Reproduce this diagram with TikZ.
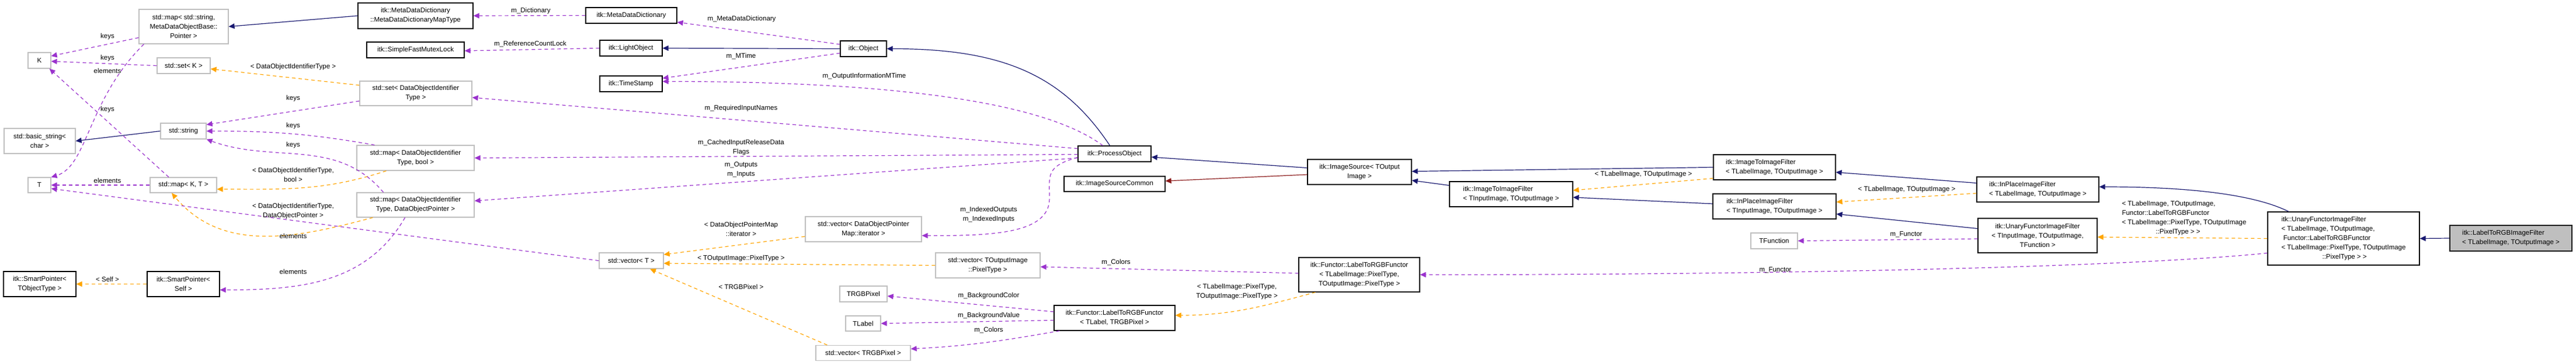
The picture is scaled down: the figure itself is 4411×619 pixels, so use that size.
\documentclass[tikz,border=0pt]{standalone}
\usepackage{fontspec}
\setmainfont{Liberation Sans}
\usetikzlibrary{arrows.meta}
\definecolor{cblue}{HTML}{191970}
\definecolor{cpurp}{HTML}{9A32CD}
\definecolor{corg}{HTML}{FFA500}
\definecolor{cred}{HTML}{8B1A1A}
\definecolor{cgray}{HTML}{BFBFBF}
\begin{document}
\begin{tikzpicture}[x=1pt,y=-1pt,
  font=\fontsize{11.5}{16}\selectfont,
  box/.style={draw=black,line width=1.2pt,rectangle,inner sep=0pt,align=center},
  ud/.style={draw=cgray,line width=1.2pt,rectangle,inner sep=0pt,align=center},
  lab/.style={inner sep=0pt,align=center},
  tip/.style={-{Triangle[length=10pt,width=9pt]}},
  inh/.style={tip,draw=cblue,fill=none,line width=1.2pt,cblue},
  inr/.style={tip,draw=cred,line width=1.2pt,cred},
  tmpl/.style={tip,draw=corg,line width=1.2pt,dash pattern=on 6pt off 5pt,corg},
  use/.style={tip,draw=cpurp,line width=1.2pt,dash pattern=on 6pt off 5pt,cpurp}]
\useasboundingbox (0,0) rectangle (4411,619);
% nodes
\node[ud,minimum width=153,minimum height=59] (mapstr) at (314.5,45.5) {std::map< std::string,\\MetaDataObjectBase::\\Pointer >};
\node[ud,minimum width=39,minimum height=27] (K) at (67.5,103.5) {K};
\node[ud,minimum width=91,minimum height=27] (setK) at (314.5,112.5) {std::set< K >};
\node[ud,minimum width=122,minimum height=43] (bstr) at (68,241.5) {std::basic\_string<\\char >};
\node[ud,minimum width=78,minimum height=27] (sstr) at (314,224.5) {std::string};
\node[ud,minimum width=39,minimum height=26] (T) at (67.5,317) {T};
\node[ud,minimum width=114,minimum height=26] (mapKT) at (314,317) {std::map< K, T >};
\node[box,minimum width=124,minimum height=43] (spt) at (68,486.5) {itk::SmartPointer<\\TObjectType >};
\node[box,minimum width=124,minimum height=43] (sps) at (314,486.5) {itk::SmartPointer<\\Self >};
\node[box,minimum width=197,minimum height=44] (mddmap) at (711.5,27) {itk::MetaDataDictionary\\::MetaDataDictionaryMapType};
\node[box,minimum width=167,minimum height=27] (sfml) at (711.5,85.5) {itk::SimpleFastMutexLock};
\node[ud,minimum width=192,minimum height=42] (setd) at (712,160) {std::set< DataObjectIdentifier\\Type >};
\node[ud,minimum width=201,minimum height=43] (mapb) at (711.5,270.5) {std::map< DataObjectIdentifier\\Type, bool >};
\node[ud,minimum width=201,minimum height=42] (mapp) at (711.5,351) {std::map< DataObjectIdentifier\\Type, DataObjectPointer >};
\node[box,minimum width=156,minimum height=27] (mdd) at (1081,26.5) {itk::MetaDataDictionary};
\node[box,minimum width=107,minimum height=27] (lo) at (1080.5,82.5) {itk::LightObject};
\node[box,minimum width=107,minimum height=27] (ts) at (1080.5,143.5) {itk::TimeStamp};
\node[ud,minimum width=110,minimum height=27] (vect) at (1081,446.5) {std::vector< T >};
\node[ud,minimum width=199,minimum height=43] (vecdopm) at (1478.5,392.5) {std::vector< DataObjectPointer\\Map::iterator >};
\node[box,minimum width=79,minimum height=27] (obj) at (1478.5,83.5) {itk::Object};
\node[box,minimum width=125,minimum height=27] (po) at (1908.5,263.5) {itk::ProcessObject};
\node[box,minimum width=173,minimum height=26] (isc) at (1908.5,315) {itk::ImageSourceCommon};
\node[ud,minimum width=179,minimum height=43] (vectop) at (1691.5,454.5) {std::vector< TOutputImage\\::PixelType >};
\node[ud,minimum width=81,minimum height=27] (trgb) at (1478.5,503.5) {TRGBPixel};
\node[ud,minimum width=60,minimum height=26] (tlabel) at (1478,554) {TLabel};
\node[ud,minimum width=162,minimum height=26] (vectrgb) at (1478,604.5) {std::vector< TRGBPixel >};
\node[box,minimum width=207,minimum height=43] (funl) at (1908.5,544.5) {itk::Functor::LabelToRGBFunctor\\< TLabel, TRGBPixel >};
\node[box,minimum width=178,minimum height=43] (is) at (2328,294.5) {itk::ImageSource< TOutput\\Image >};
\node[box,minimum width=211,minimum height=43,align=left] (i2it) at (2587.5,332.5) {itk::ImageToImageFilter\\< TInputImage, TOutputImage >};
\node[box,minimum width=207,minimum height=59] (funp) at (2327.5,470.5) {itk::Functor::LabelToRGBFunctor\\< TLabelImage::PixelType,\\TOutputImage::PixelType >};
\node[box,minimum width=209,minimum height=43,align=left] (i2il) at (3038.5,286.5) {itk::ImageToImageFilter\\< TLabelImage, TOutputImage >};
\node[box,minimum width=211,minimum height=43,align=left] (ipt) at (3038.5,353.5) {itk::InPlaceImageFilter\\< TInputImage, TOutputImage >};
\node[ud,minimum width=80,minimum height=27] (tfun) at (3038,412.5) {TFunction};
\node[box,minimum width=209,minimum height=43,align=left] (ipl) at (3489.5,324.5) {itk::InPlaceImageFilter\\< TLabelImage, TOutputImage >};
\node[box,minimum width=204,minimum height=59] (ut) at (3489,403.5) {itk::UnaryFunctorImageFilter\\< TInputImage, TOutputImage,\\TFunction >};
\node[box,minimum width=260,minimum height=91,align=left] (ul) at (4013,408.5) {itk::UnaryFunctorImageFilter\\< TLabelImage, TOutputImage,\\\ Functor::LabelToRGBFunctor\\< TLabelImage::PixelType, TOutputImage\\\hspace*{70pt}::PixelType > >};
\node[box,fill=cgray,minimum width=209,minimum height=44,align=left] (lrgb) at (4299.5,408) {itk::LabelToRGBImageFilter\\< TLabelImage, TOutputImage >};
% inheritance
\draw[inh] (mddmap.west) -- (mapstr.east);
\draw[inh] (sstr.west) -- (bstr.east);
\draw[inh] (obj.west) -- (lo.east);
\draw[inh] ([xshift=-8]po.north) .. controls +(-80,-120) and +(200,0) .. (obj.east);
\draw[inh] ([yshift=7]is.west) -- ([yshift=-5.5]po.east);
\draw[inr] ([yshift=-4.5]is.west) -- ([yshift=5]isc.east);
\draw[inh] ([yshift=15]i2it.west) -- ([yshift=-14.5]is.east);
\draw[inh] (i2il.west) -- ([yshift=1]is.east);
\draw[inh] ([yshift=4.5]ipt.west) -- ([yshift=-5.5]i2it.east);
\draw[inh] ([yshift=11]ipl.west) -- ([yshift=-8.5]i2il.east);
\draw[inh] ([yshift=12]ut.west) -- ([yshift=-13]ipt.east);
\draw[inh] ([xshift=-94]ul.north) .. controls +(-60,-30) and +(150,0) .. ([yshift=4.5]ipl.east);
\draw[inh] (lrgb.west) -- (ul.east);
% templates
\draw[tmpl] ([yshift=-19]i2il.west) -- ([yshift=6.5]i2it.east);
\draw[tmpl] ([yshift=-6.5]ipl.west) -- ([yshift=7.5]ipt.east);
\draw[tmpl] (ul.west) -- ([yshift=-2.5]ut.east);
\draw[tmpl] ([xshift=-75]funp.south) to[out=195,in=0] ([yshift=4.5]funl.east);
\draw[tmpl] (vectop.west) -- ([yshift=-4.5]vect.east);
\draw[tmpl] ([yshift=-12.5]vecdopm.west) -- ([yshift=10.5]vect.east);
\draw[tmpl] ([xshift=20]vectrgb.north west) -- ([xshift=32]vect.south);
\draw[tmpl] ([yshift=14]setd.west) -- ([yshift=-5.5]setK.east);
\draw[tmpl] ([xshift=-50]mapb.south) to[out=198,in=0] ([yshift=-7]mapKT.east);
\draw[tmpl] ([xshift=-73]mapp.south) to[out=195,in=-50] ([xshift=-20]mapKT.south);
\draw[tmpl] (sps.west) -- (spt.east);
% usage
\draw[use] ([yshift=-25]ul.west) .. controls +(-250,25) and +(600,0) .. (funp.east);
\draw[use] ([yshift=-5.5]ut.west) -- (tfun.east);
\draw[use] ([yshift=2.5]funp.west) -- ([yshift=-2.5]vectop.east);
\draw[use] ([yshift=10.5]funl.west) -- ([yshift=-3.5]trgb.east);
\draw[use] ([yshift=-4]funl.west) -- (tlabel.east);
\draw[use] ([xshift=10]funl.south west) to[out=190,in=3] ([yshift=7]vectrgb.east);
\draw[use] ([yshift=-6]po.west) .. controls (1790,285) and (1797,300) .. (1797,340) .. controls (1797,400) and (1700,404) .. ([yshift=-11]vecdopm.east);
\draw[use] ([yshift=-7]po.west) -- ([yshift=7]mapp.east);
\draw[use] ([yshift=-1]po.west) -- (mapb.east);
\draw[use] ([yshift=9]po.west) -- ([yshift=-7]setd.east);
\draw[use] ([xshift=-20]po.north) .. controls +(-120,-90) and +(300,0) .. ([yshift=4]ts.east);
\draw[use] ([yshift=-7.5]obj.west) -- ([yshift=9.5]ts.east);
\draw[use] ([yshift=7.5]obj.west) -- ([yshift=-11.5]mdd.east);
\draw[use] (mdd.west) -- (mddmap.east);
\draw[use] (lo.west) -- ([yshift=-1.5]sfml.east);
\draw[use] ([yshift=-13]setd.west) -- ([yshift=11]sstr.east);
\draw[use] ([xshift=-70]mapb.north) to[out=170,in=0] (sstr.east);
\draw[use] ([xshift=-55]mapp.north) to[out=130,in=-20] (sstr.south east);
\draw[use] ([xshift=-18]mapp.south) to[out=-120,in=0] ([yshift=-10]sps.east);
\draw[use] (vect.west) -- ([yshift=-6]T.east);
\draw[use] (mapKT.west) -- (T.east);
\draw[use] ([xshift=-25]mapKT.north) -- ([xshift=-3]K.south east);
\draw[use] (setK.west) -- ([yshift=-1.5]K.east);
\draw[use] ([yshift=-19]mapstr.west) -- ([yshift=7.5]K.east);
\draw[use] ([xshift=-68]mapstr.south) .. controls (150,170) and (150,285) .. (T.north east);
% labels
\node[lab] (l1) at (184,63) {keys};
\node[lab] (l2) at (184,100) {keys};
\node[lab] (l3) at (184,121) {elements};
\node[lab] (l4) at (184,188) {keys};
\node[lab] (l5) at (184,309) {elements};
\node[lab] (l6) at (184,478) {< Self >};
\node[lab] (l7) at (502,115) {< DataObjectIdentifierType >};
\node[lab] (l8) at (502,169) {keys};
\node[lab] (l9) at (502,216) {keys};
\node[lab] (l10) at (502,249) {keys};
\node[lab] (l11) at (502,299) {< DataObjectIdentifierType,\\bool >};
\node[lab] (l12) at (502,362) {< DataObjectIdentifierType,\\DataObjectPointer >};
\node[lab] (l13) at (502,404) {elements};
\node[lab] (l14) at (502,465) {elements};
\node[lab] (l15) at (909,19) {m\_Dictionary};
\node[lab] (l16) at (1270,33) {m\_MetaDataDictionary};
\node[lab] (l17) at (908,75) {m\_ReferenceCountLock};
\node[lab] (l18) at (1269,96) {m\_MTime};
\node[lab] (l19) at (1480,131) {m\_OutputInformationMTime};
\node[lab] (l20) at (1269,186) {m\_RequiredInputNames};
\node[lab] (l21) at (1269,253) {m\_CachedInputReleaseData\\Flags};
\node[lab] (l22) at (1269,291) {m\_Outputs\\m\_Inputs};
\node[lab] (l23) at (1269,392) {< DataObjectPointerMap\\::iterator >};
\node[lab] (l24) at (1269,443) {< TOutputImage::PixelType >};
\node[lab] (l25) at (1269,491) {< TRGBPixel >};
\node[lab] (l26) at (1693,368) {m\_IndexedOutputs\\m\_IndexedInputs};
\node[lab] (l27) at (1911,449) {m\_Colors};
\node[lab] (l28) at (1693,507) {m\_BackgroundColor};
\node[lab] (l29) at (1693,541) {m\_BackgroundValue};
\node[lab] (l30) at (1693,565) {m\_Colors};
\node[lab] (l31) at (2118,500) {< TLabelImage::PixelType,\\TOutputImage::PixelType >};
\node[lab] (l32) at (2814,299) {< TLabelImage, TOutputImage >};
\node[lab] (l33) at (3265,325) {< TLabelImage, TOutputImage >};
\node[lab] (l34) at (3264,402) {m\_Functor};
\node[lab] (l35) at (3040,463) {m\_Functor};
\node[lab,align=left] (l36) at (3740,374) {< TLabelImage, TOutputImage,\\Functor::LabelToRGBFunctor\\< TLabelImage::PixelType, TOutputImage\\\hspace*{58pt}::PixelType > >};
\end{tikzpicture}
\end{document}
